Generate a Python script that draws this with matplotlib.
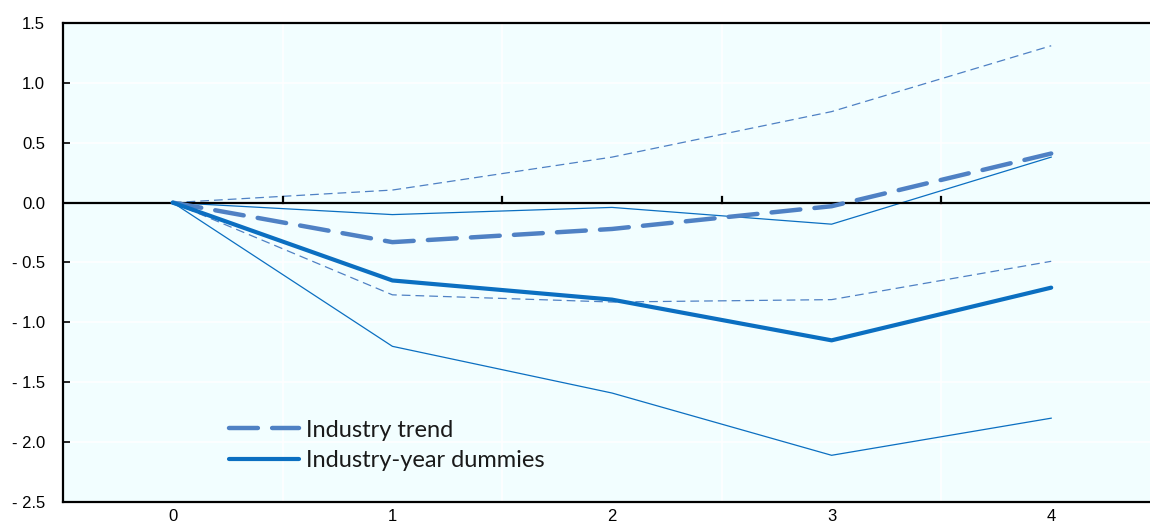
import matplotlib.pyplot as plt
import numpy as np

# horizon (years after shock)
horizon = [0, 1, 2, 3, 4]

# Industry trend: estimate and confidence bands
trend = [0.0, -0.33, -0.22, -0.03, 0.41]
trend_hi = [0.0, 0.105, 0.38, 0.76, 1.31]
trend_lo = [0.0, -0.77, -0.83, -0.81, -0.49]

# Industry-year dummies: estimate and confidence bands
dummies = [0.0, -0.65, -0.81, -1.15, -0.71]
dummies_hi = [0.0, -0.10, -0.04, -0.18, 0.38]
dummies_lo = [0.0, -1.20, -1.59, -2.11, -1.80]

yticks = [1.5, 1.0, 0.5, 0.0, -0.5, -1.0, -1.5, -2.0, -2.5]

c_trend = '#4f81c4'
c_dummy = '#0b6fc1'

fig = plt.figure(figsize=(11.5, 5.25), dpi=100)
ax = fig.add_axes([63 / 1150, 1 - 502 / 525, 1098 / 1150, 479 / 525])
ax.set_facecolor('#f2feff')

x = np.array(horizon)
ax.plot(x, trend_hi, color=c_trend, lw=0.9, dashes=(7, 4))
ax.plot(x, trend_lo, color=c_trend, lw=0.9, dashes=(7, 4))
ax.plot(x, dummies_hi, color=c_dummy, lw=0.9)
ax.plot(x, dummies_lo, color=c_dummy, lw=0.9)
ax.plot(x, trend, color=c_trend, lw=3.2, dashes=(6.5, 3.2),
        dash_capstyle='round', label='Industry trend', zorder=4)
ax.plot(x, dummies, color=c_dummy, lw=3.0, solid_capstyle='round',
        label='Industry-year dummies', zorder=4)

ax.set_xlim(-0.5, 4.5)
ax.set_ylim(-2.5, 1.5)
ax.set_yticks(yticks)
ax.set_yticklabels([('- %.1f' % -v) if v < 0 else '%.1f' % v for v in yticks],
                   family='Liberation Sans', fontsize=12)
ax.set_xticks(horizon)
ax.set_xticklabels([str(h) for h in horizon], family='Liberation Sans', fontsize=12)

# white gridlines at y ticks and at category boundaries
for v in yticks:
    ax.axhline(v, color='white', lw=1.2, zorder=0.5)
for b in np.arange(0.5, 4.5, 1):
    ax.axvline(b, color='white', lw=1.2, zorder=0.5)

# zero line with category boundary ticks
ax.axhline(0, color='black', lw=1.6, zorder=3)
for b in np.arange(0.5, 4.5, 1):
    ax.plot([b, b], [0, 0.05], color='black', lw=1.6, zorder=3)

for s in ['left', 'top', 'bottom']:
    ax.spines[s].set_linewidth(1.6)
    ax.spines[s].set_color('black')
ax.spines['right'].set_visible(False)

ax.tick_params(axis='y', direction='in', length=5, width=1.2, pad=13)
ax.tick_params(axis='x', length=0, pad=5)

leg = ax.legend(loc='upper left', bbox_to_anchor=(0.151, 0.172), frameon=False,
                borderpad=0, borderaxespad=0,
                handlelength=2.97, handletextpad=0.3, labelspacing=0.4,
                prop={'family': 'Lato', 'size': 17})
for t in leg.get_texts():
    t.set_color('#1a1a1a')

fig.savefig('out.png', dpi=100)
